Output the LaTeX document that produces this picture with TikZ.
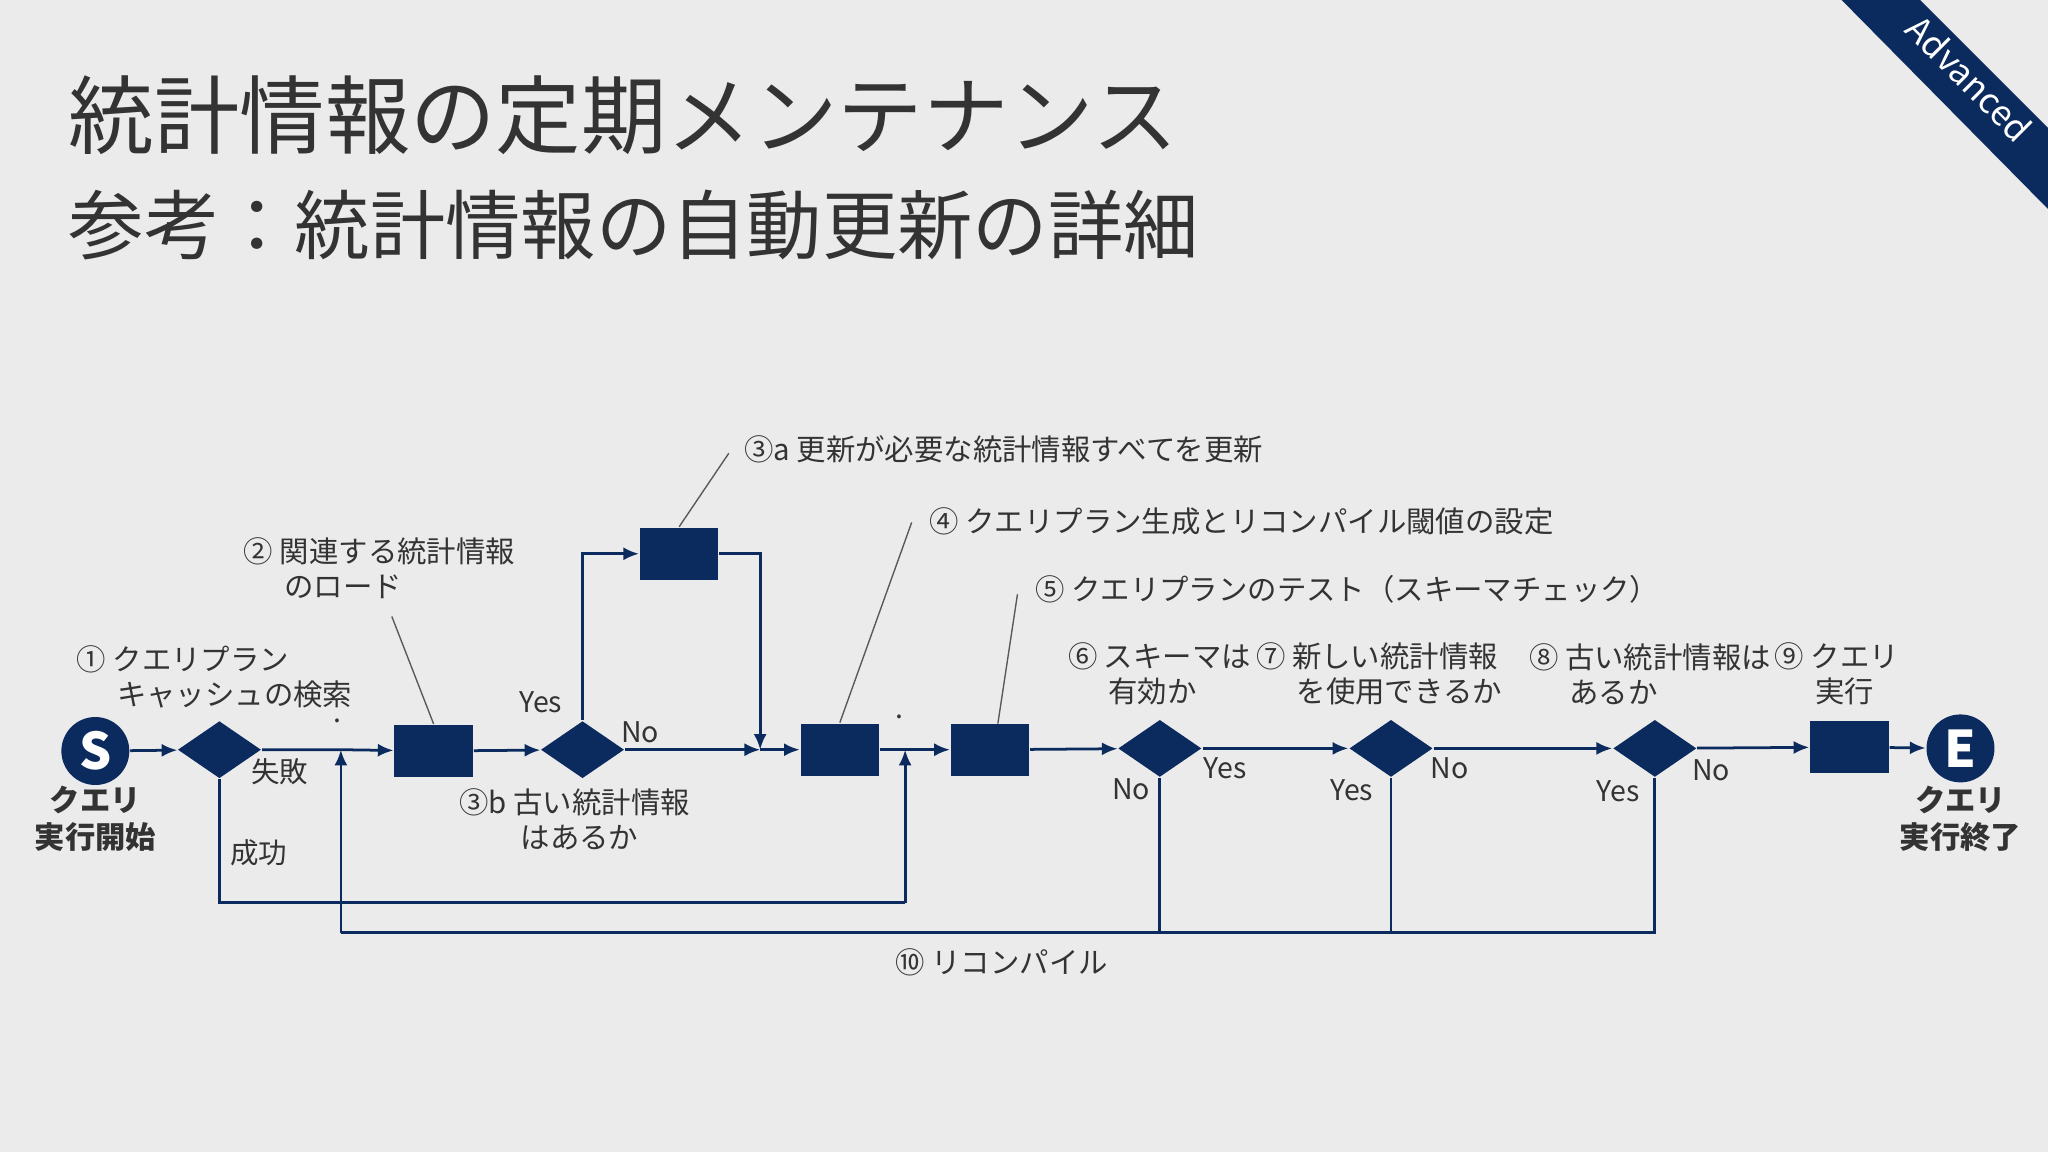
\documentclass[tikz,border=0pt]{standalone}
\usepackage{fontspec}
\setmainfont{Noto Sans CJK JP}
\usetikzlibrary{shapes.geometric,arrows.meta}
\definecolor{navy}{HTML}{0B2A5E}
\definecolor{bg}{HTML}{EBEBEB}
\definecolor{txt}{HTML}{333333}
\tikzset{
 box/.style={fill=navy,minimum width=0.6cm,minimum height=0.4cm,inner sep=0},
 dia/.style={diamond,fill=navy,minimum width=0.64cm,minimum height=0.44cm,inner sep=0,aspect=1.45},
 circ/.style={circle,fill=navy,minimum size=0.52cm,inner sep=0,text=white,font=\fontsize{11}{11}\selectfont\bfseries},
 lbl/.style={text=txt,font=\fontsize{6.4}{7.6}\selectfont,align=left,inner sep=0},
 yn/.style={text=txt,font=\fontsize{6.2}{7}\selectfont,inner sep=0},
 lead/.style={draw=gray!70!black,line width=0.3pt},
 ln/.style={draw=navy,line width=0.6pt},
 arr/.style={ln,-{Latex[length=1.2mm,width=1mm]}},
}
\begin{document}
\begin{tikzpicture}[x=0.01cm,y=-0.01cm]
\fill[bg] (0,0) rectangle (1568,882);
\useasboundingbox (0,0) rectangle (1568,882);
% banner
\fill[navy] (1410,0) -- (1470,0) -- (1568,98) -- (1568,160) -- cycle;
\node[text=white,rotate=-45,font=\fontsize{7.6}{7.6}\selectfont,inner sep=0] (adv) at (1508,60) {Advanced};
% titles
\node[anchor=west,text=txt,font=\fontsize{18.6}{19}\selectfont,inner sep=0] (t1) at (52,88) {統計情報の定期メンテナンス};
\node[anchor=west,text=txt,font=\fontsize{16.4}{17}\selectfont,inner sep=0] (t2) at (52,172) {参考：統計情報の自動更新の詳細};
% nodes
\node[circ] (S) at (73,575) {S};
\node[circ] (E) at (1501,573) {E};
\node[lbl,font=\fontsize{6.6}{8}\selectfont\bfseries,align=center] (Sl) at (73,627) {クエリ\\実行開始};
\node[lbl,font=\fontsize{6.6}{8}\selectfont\bfseries,align=center] (El) at (1501,627) {クエリ\\実行終了};
\node[dia] (d1) at (168,574) {};
\node[box] (b2) at (332,575) {};
\node[dia] (d3) at (446,574) {};
\node[box] (b3a) at (520,424) {};
\node[box] (b4) at (643,574) {};
\node[box] (b5) at (758,574) {};
\node[dia] (d6) at (888,573) {};
\node[dia] (d7) at (1065,573) {};
\node[dia] (d8) at (1267,573) {};
\node[box] (b9) at (1416,572) {};
\coordinate (j1) at (261,574);
\coordinate (j2) at (693,574);
\coordinate (m3) at (582,574);
% main flow
\draw[arr] (S) -- (d1);
\draw[arr] (d1) -- (j1) -- (b2);
\draw[arr] (b2) -- (d3);
\draw[arr] (d3) -- (m3);
\draw[arr] (m3) -- (b4);
\draw[arr] (b4) -- (j2) -- (b5);
\draw[arr] (b5) -- (d6);
\draw[arr] (d6) -- (d7);
\draw[arr] (d7) -- (d8);
\draw[arr] (d8) -- (b9);
\draw[arr] (b9) -- (E);
% yes branch
\draw[arr] (d3.north) |- (b3a.west);
\draw[arr] (b3a.east) -| (m3);
% success branch
\coordinate (c1) at (168,691);
\coordinate (c2) at (693,691);
\draw[ln] (d1.south) -- (c1) -- (c2);
\draw[arr] (c2) -- (j2);
% recompile
\coordinate (r0) at (261,714);
\coordinate (r6) at (888,714);
\coordinate (r7) at (1065,714);
\coordinate (r8) at (1267,714);
\draw[ln] (d6.south) -- (r6);
\draw[ln] (d7.south) -- (r7);
\draw[ln] (d8.south) -- (r8) -- (r0);
\draw[arr] (r0) -- (j1);
% dots
\node[yn] (dot1) at (258,552) {.};
\node[yn] (dot2) at (689,549) {.};
% labels
\node[lbl,anchor=west] (L1) at (58,518) {① クエリプラン\\\hspace{0.31cm}キャッシュの検索};
\node[lbl,anchor=west] (L2) at (186,435) {② 関連する統計情報\\\hspace{0.31cm}のロード};
\node[lbl,anchor=west] (L3a) at (569,344) {③a 更新が必要な統計情報すべてを更新};
\node[lbl,anchor=west] (L4) at (711,399) {④ クエリプラン生成とリコンパイル閾値の設定};
\node[lbl,anchor=west] (L5) at (792,451) {⑤ クエリプランのテスト（スキーマチェック）};
\node[lbl,anchor=west] (L6) at (817,516) {⑥ スキーマは\\\hspace{0.31cm}有効か};
\node[lbl,anchor=west] (L7) at (961,516) {⑦ 新しい統計情報\\\hspace{0.31cm}を使用できるか};
\node[lbl,anchor=west] (L8) at (1170,516) {⑧ 古い統計情報は\\\hspace{0.31cm}あるか};
\node[lbl,anchor=west] (L9) at (1358,516) {⑨ クエリ\\\hspace{0.31cm}実行};
\node[lbl,anchor=west] (L3b) at (351,627) {③b 古い統計情報\\\hspace{0.47cm}はあるか};
\node[lbl,anchor=west] (L10) at (685,737) {⑩ リコンパイル};
\draw[lead] (300,472) -- (b2.north);
\draw[lead] (558,347) -- (b3a.north);
\draw[lead] (698,400) -- (b4.north);
\draw[lead] (779,455) -- (764,554);
% yes/no
\node[yn] (f1) at (214,591) {失敗};
\node[yn] (s1) at (198,653) {成功};
\node[yn] (y3) at (414,538) {Yes};
\node[yn] (n3) at (490,561) {No};
\node[yn] (n6) at (866,604) {No};
\node[yn] (y6) at (938,588) {Yes};
\node[yn] (y7) at (1035,605) {Yes};
\node[yn] (n7) at (1110,588) {No};
\node[yn] (y8) at (1239,606) {Yes};
\node[yn] (n8) at (1310,590) {No};
\end{tikzpicture}
\end{document}
